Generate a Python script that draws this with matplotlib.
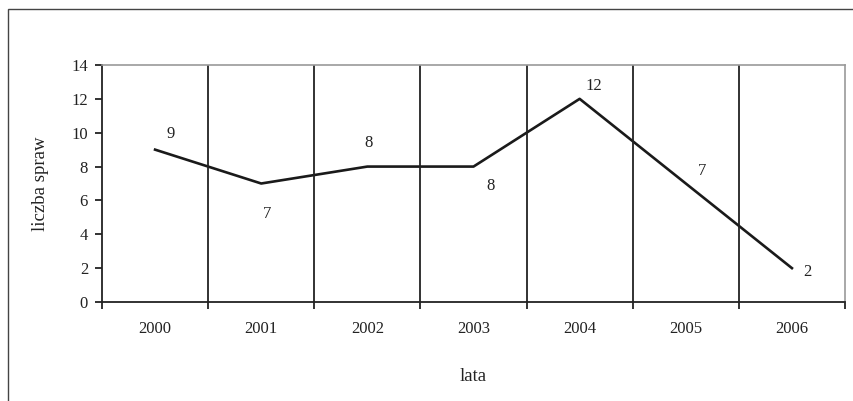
import matplotlib.pyplot as plt
from matplotlib.patches import Rectangle

years = ["2000", "2001", "2002", "2003", "2004", "2005", "2006"]
cases = [9, 7, 8, 8, 12, 7, 2]

# offsets (points) for each value label
label_offsets = [(11, 11), (4, -22), (1, 17), (12, -14), (10, 9), (12, 9), (11, -3)]

plt.rcParams["font.family"] = ["Liberation Serif", "DejaVu Serif"]

fig = plt.figure(figsize=(8.54, 4.01), dpi=100)
ax = fig.add_axes([102 / 854, 99 / 401, 743 / 854, 237 / 401])

# outer frame around the chart (right and bottom edges run off the image)
fig.patches.append(Rectangle((8 / 854, -0.05), 1.05 - 8 / 854, 1.05 - 9 / 401,
                             transform=fig.transFigure, fill=False,
                             edgecolor="#444444", linewidth=1.0))

x = list(range(len(years)))
ax.plot(x, cases, color="#1a1a1a", linewidth=1.9)

for xi, v, off in zip(x, cases, label_offsets):
    ax.annotate(str(v), (xi, v), xytext=off, textcoords="offset points",
                ha="center", va="center", fontsize=12, color="#222222")

# vertical separators between categories
for b in range(1, len(years)):
    ax.axvline(b - 0.5, color="#222222", linewidth=1.3)

ax.set_xlim(-0.5, len(years) - 0.5)
ax.set_ylim(0, 14)
ax.set_yticks(range(0, 15, 2))
ax.set_xticks(x)
ax.set_xticklabels(years)
ax.set_xticks([b - 0.5 for b in range(len(years) + 1)], minor=True)

ax.tick_params(axis="x", which="major", length=0, pad=14, labelsize=12, labelcolor="#222222")
ax.tick_params(axis="x", which="minor", length=5, width=1.3, direction="out", color="#222222")
ax.tick_params(axis="y", length=5, width=1.3, direction="out", pad=5, labelsize=12,
               color="#222222", labelcolor="#222222")

for side in ["left", "bottom"]:
    ax.spines[side].set_color("#222222")
    ax.spines[side].set_linewidth(1.3)
for side in ["top", "right"]:
    ax.spines[side].set_color("#999999")
    ax.spines[side].set_linewidth(1.2)

ax.set_xlabel("lata", fontsize=13.5, labelpad=22, color="#222222")
ax.set_ylabel("liczba spraw", fontsize=13.5, labelpad=16, color="#222222")

fig.savefig("out.png", dpi=100)
